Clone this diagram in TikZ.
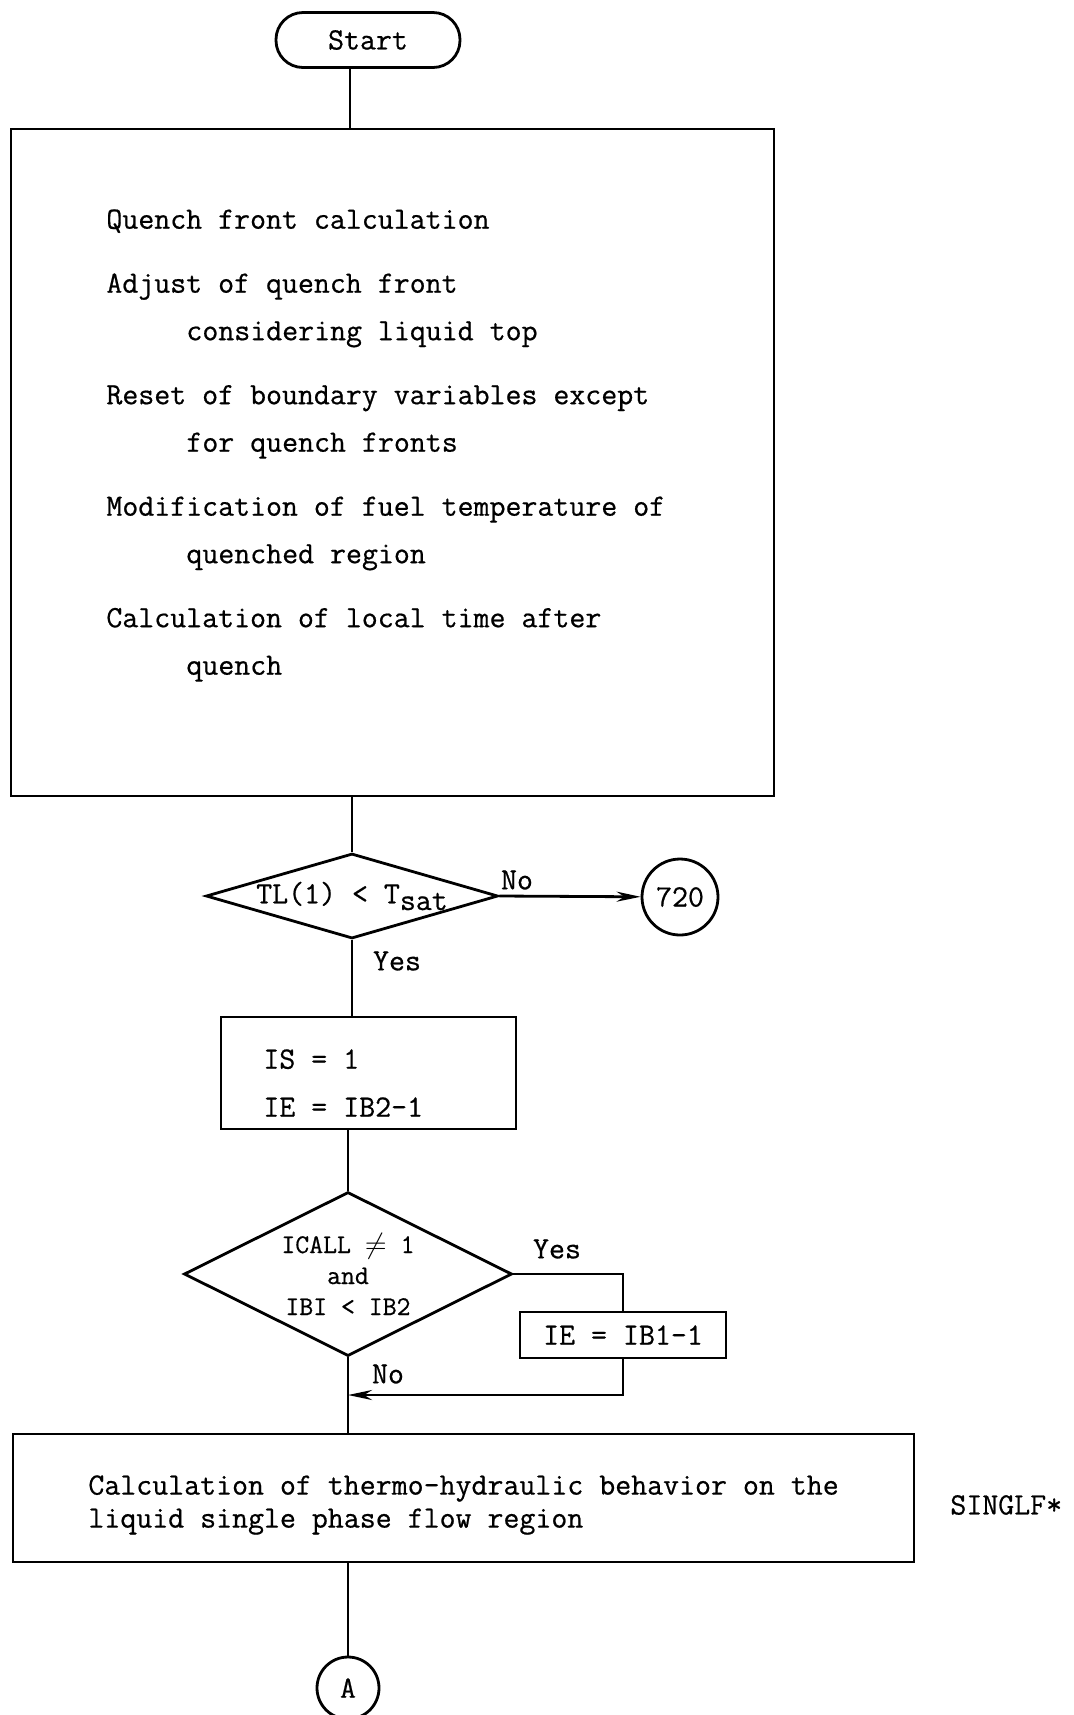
\documentclass[tikz,border=0pt]{standalone}
\usepackage{fontspec}
\setmonofont[FakeBold=0.6]{Latin Modern Mono}
\usetikzlibrary{arrows.meta,positioning,shapes.geometric}

\begin{document}
\begin{tikzpicture}[
  x=0.5pt, y=-0.5pt,
  font=\ttfamily\fontsize{15.5}{17}\selectfont,
  line width=1.4pt,
  box/.style={draw, line width=1.4pt, inner sep=0pt},
  term/.style={box, rounded corners=13.5pt, minimum width=92pt, minimum height=27.5pt},
  cond/.style={draw, diamond, line width=1.4pt, inner sep=0pt, align=center},
  conn/.style={draw, circle, line width=1.4pt, inner sep=0pt},
  txt/.style={align=left, inner sep=0pt, anchor=west},
  arr/.style={-{Stealth[length=12pt, width=5pt]}, line width=1.4pt}
]
\useasboundingbox (0,0) rectangle (1074,1715);

\node[term] (start) at (368,40) {Start};
\node[box, minimum width=381.5pt, minimum height=333.5pt] (calc) at (392.5,462.5) {};
\node[txt, anchor=north west, font=\ttfamily\fontsize{15.5}{23.75}\selectfont] (calctxt) at (105,208) {Quench front calculation\\[8.25pt]
Adjust of quench front\\
\hspace*{40pt}considering liquid top\\[8.25pt]
Reset of boundary variables except\\
\hspace*{40pt}for quench fronts\\[8.25pt]
Modification of fuel temperature of\\
\hspace*{40pt}quenched region\\[8.25pt]
Calculation of local time after\\
\hspace*{40pt}quench};
\node[cond, aspect=3.4, minimum width=146pt, minimum height=42.5pt] (tl) at (352,896) {TL(1) < T\raisebox{-0.5ex}{sat}};
\node[conn, minimum size=38pt] (c720) at (680,897) {720};
\node (no1) at (517,880) {No};
\node (yes1) at (397,961) {Yes};
\node[box, minimum width=147.5pt, minimum height=56pt] (init) at (368.5,1073) {};
\node[txt, font=\ttfamily\fontsize{15.5}{24}\selectfont] (inittxt) at (262,1083) {IS = 1\\IE = IB2-1};
\node[cond, aspect=2, minimum width=164pt, minimum height=82pt, font=\ttfamily\fontsize{13.5}{15.5}\selectfont] (call) at (348,1274) {ICALL $\neq$ 1\\and\\IBI < IB2};
\node (yes2) at (557,1249) {Yes};
\node[box, minimum width=103pt, minimum height=23pt] (reset) at (623,1335) {IE = IB1-1};
\node (no2) at (388,1374) {No};
\coordinate (join) at (348,1395);
\node[box, minimum width=450.5pt, minimum height=64pt] (single) at (463.5,1498) {};
\node[txt, font=\ttfamily\fontsize{15.5}{16.5}\selectfont] (singletxt) at (87,1505) {Calculation of thermo-hydraulic behavior on the\\liquid single phase flow region};
\node[txt] (singlf) at (949,1505) {SINGLF*};
\node[conn, minimum size=31pt] (ca) at (348,1688) {A};

\draw ([xshift=-9pt]start.south) -- ([xshift=-9pt]start.south |- calc.north);
\draw (tl.north |- calc.south) -- (tl.north);
\draw[arr] (tl.east) -- (c720);
\draw (tl.south) -- (tl.south |- init.north);
\draw (call.north |- init.south) -- (call.north);
\draw (call.east) -| (reset.north);
\draw[arr] (reset.south) |- (join);
\draw (call.south) -- (call.south |- single.north);
\draw (ca.north |- single.south) -- (ca.north);
\end{tikzpicture}
\end{document}
